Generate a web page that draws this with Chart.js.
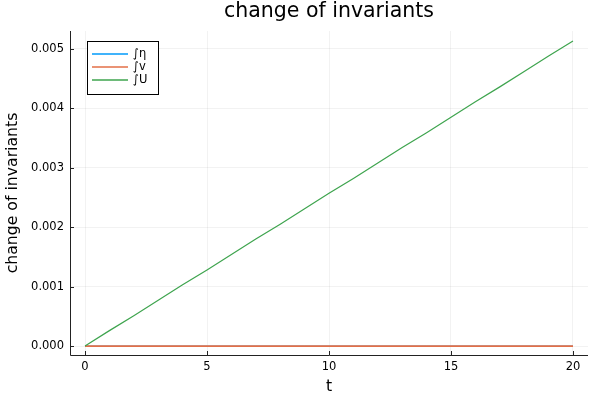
<!DOCTYPE html>
<html><head><meta charset="utf-8">
<script src="https://cdn.jsdelivr.net/npm/chart.js@4"></script>
<style>html,body{margin:0;padding:0;background:#fff}#w{width:600px;height:400px}</style>
</head><body><div id="w"><canvas id="c"></canvas></div>
<script>
const title = "change of invariants";
const xTitle = "t";
const yTitle = "change of invariants";
const t = [0,1,2,3,4,5,6,7,8,9,10,11,12,13,14,15,16,17,18,19,20];
const etaVals = [0,0,0,0,0,0,0,0,0,0,0,0,0,0,0,0,0,0,0,0,0];
const vVals = [0,0,0,0,0,0,0,0,0,0,0,0,0,0,0,0,0,0,0,0,0];
const uVals = [0,0.00026,0.00051,0.00077,0.00103,0.00128,0.00154,0.00180,0.00205,0.00231,0.00257,0.00282,0.00308,0.00334,0.00359,0.00385,0.00411,0.00436,0.00462,0.00488,0.00513];
const seriesNames = ["∫η","∫v","∫U"];
const colors = ["#009AFA","#E36F47","#3EA44E"];
const widths = [1,1.6,1.2];
const xTicks = [0,5,10,15,20];
const yTicks = [0,0.001,0.002,0.003,0.004,0.005];
const FONT = "'DejaVu Sans', sans-serif";

const pts = v => t.map((x,i)=>({x:x,y:v[i]}));
const ds = [etaVals,vVals,uVals].map((v,i)=>({label:seriesNames[i],data:pts(v),borderColor:colors[i],backgroundColor:colors[i],borderWidth:widths[i],pointRadius:0,fill:false,tension:0,order:3-i}));

const deco = {
  id:'deco',
  afterDraw(chart){
    const ctx=chart.ctx, a=chart.chartArea;
    ctx.save();
    ctx.strokeStyle='#222'; ctx.lineWidth=1;
    ctx.beginPath(); ctx.moveTo(a.left+0.5,a.top); ctx.lineTo(a.left+0.5,a.bottom+0.5); ctx.lineTo(a.right,a.bottom+0.5); ctx.stroke();
    const xs=chart.scales.x, ys=chart.scales.y;
    ctx.beginPath();
    xTicks.forEach(v=>{const px=Math.round(xs.getPixelForValue(v))+0.5; ctx.moveTo(px,a.bottom); ctx.lineTo(px,a.bottom-4);});
    yTicks.forEach(v=>{const py=Math.round(ys.getPixelForValue(v))+0.5; ctx.moveTo(a.left,py); ctx.lineTo(a.left+4,py);});
    ctx.stroke();
    ctx.fillStyle='#000'; ctx.font="20.5px "+FONT; ctx.textAlign='center'; ctx.textBaseline='middle';
    ctx.fillText(title,(a.left+a.right)/2,12);
    const lx=87, ly=41, lw=71, lh=53;
    ctx.fillStyle='#fff'; ctx.fillRect(lx,ly,lw,lh);
    ctx.strokeStyle='#000'; ctx.lineWidth=1; ctx.strokeRect(lx+0.5,ly+0.5,lw,lh);
    ctx.font="11.5px "+FONT; ctx.textAlign='left';
    seriesNames.forEach((n,i)=>{
      const y=54+i*13;
      ctx.strokeStyle=colors[i]; ctx.lineWidth=1.5;
      ctx.beginPath(); ctx.moveTo(92,y); ctx.lineTo(128,y); ctx.stroke();
      ctx.fillStyle='#000'; ctx.fillText(n,133,y);
    });
    ctx.restore();
  }
};

new Chart(document.getElementById('c'),{
  type:'line',
  data:{datasets:ds},
  options:{
    responsive:true, maintainAspectRatio:false, animation:false,
    layout:{padding:{top:31,right:12,left:0,bottom:0}},
    plugins:{legend:{display:false},title:{display:false},tooltip:{enabled:false}},
    scales:{
      x:{type:'linear',min:-0.615,max:20.615,
        afterBuildTicks:s=>{s.ticks=xTicks.map(v=>({value:v}));},
        afterFit:s=>{s.height=45;},
        grid:{color:'rgba(0,0,0,0.1)',lineWidth:0.5,drawTicks:false,drawOnChartArea:true},
        border:{display:false},
        ticks:{color:'#000',font:{family:FONT,size:11.5},padding:5,maxRotation:0},
        title:{display:true,text:xTitle,color:'#000',font:{family:FONT,size:15.7},padding:{top:0}}
      },
      y:{type:'linear',min:-0.00015,max:0.0053,
        afterBuildTicks:s=>{s.ticks=yTicks.map(v=>({value:v}));},
        afterFit:s=>{s.width=70;},
        grid:{color:'rgba(0,0,0,0.1)',lineWidth:0.5,drawTicks:false},
        border:{display:false},
        ticks:{color:'#000',font:{family:FONT,size:11.5},padding:6,callback:v=>v.toFixed(3)},
        title:{display:true,text:yTitle,color:'#000',font:{family:FONT,size:15.7},padding:{bottom:2}}
      }
    }
  },
  plugins:[deco]
});
</script></body></html>
